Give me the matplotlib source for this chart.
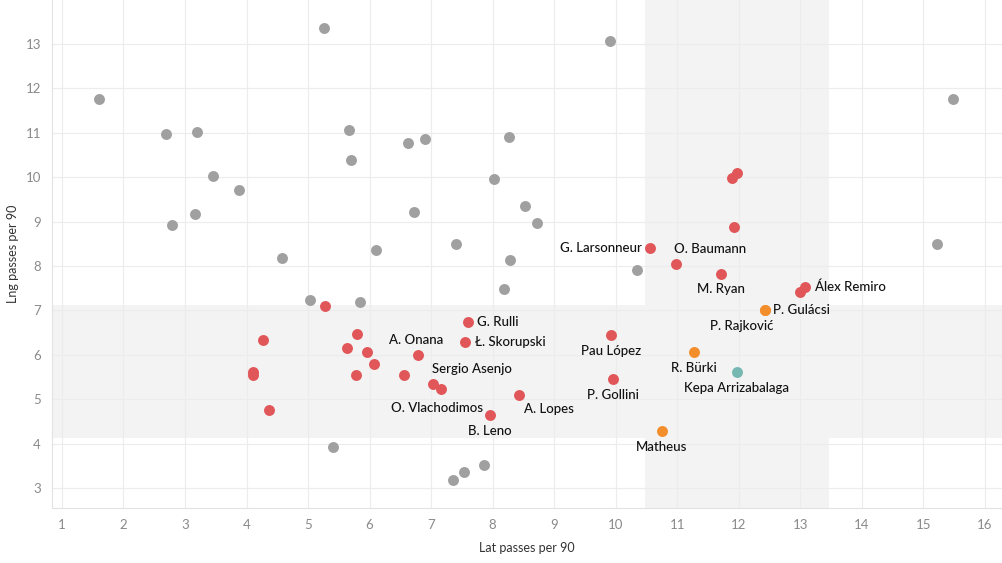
import matplotlib
matplotlib.use('Agg')
import matplotlib.pyplot as plt

plt.rcParams['font.family'] = ['Lato', 'DejaVu Sans']

# other keepers (grey)
grey_x = [1.60, 5.26, 9.91, 15.48, 2.69, 3.19, 3.45, 3.88, 2.79, 3.16, 4.58, 5.66, 5.70,
          6.10, 5.03, 5.84, 6.62, 6.90, 6.72, 7.40, 8.02, 8.26, 8.52, 8.72, 8.28, 8.18,
          10.34, 15.22, 5.40, 7.35, 7.53, 7.86]
grey_y = [11.76, 13.36, 13.07, 11.76, 10.97, 11.02, 10.03, 9.71, 8.92, 9.17, 8.18, 11.06, 10.39,
          8.36, 7.23, 7.19, 10.77, 10.86, 9.22, 8.50, 9.96, 10.90, 9.35, 8.97, 8.14, 7.48,
          7.91, 8.50, 3.92, 3.18, 3.36, 3.52]

# red keepers
red_x = [4.10, 4.10, 4.27, 4.36, 5.27, 5.63, 5.79, 5.96, 6.07, 5.78, 6.56, 6.79, 7.03, 7.16,
         7.55, 7.60, 7.96, 8.43, 9.92, 9.95, 10.56, 10.98, 11.71, 11.92, 11.89, 11.97, 13.00, 13.07]
red_y = [5.61, 5.55, 6.33, 4.76, 7.10, 6.15, 6.47, 6.06, 5.79, 5.55, 5.55, 6.00, 5.34, 5.23,
         6.29, 6.74, 4.64, 5.09, 6.45, 5.46, 8.41, 8.05, 7.82, 8.88, 9.98, 10.09, 7.41, 7.53]

# orange keepers
orange_x = [12.43, 12.43, 11.27, 10.75]
orange_y = [7.01, 7.01, 6.06, 4.28]

# teal
teal_x = [11.97]
teal_y = [5.61]

# labelled players
names = ['G. Larsonneur', 'O. Baumann', 'M. Ryan', 'Álex Remiro', 'P. Gulácsi', 'P. Rajković',
         'Pau López', 'R. Bürki', 'Kepa Arrizabalaga', 'P. Gollini', 'Matheus', 'G. Rulli',
         'Ł. Skorupski', 'A. Onana', 'Sergio Asenjo', 'O. Vlachodimos', 'B. Leno', 'A. Lopes']
name_x = [10.56, 10.98, 11.71, 13.07, 12.43, 12.43, 9.92, 11.27, 11.97, 9.95, 10.75, 7.60,
          7.55, 6.79, 7.16, 7.03, 7.96, 8.43]
name_y = [8.41, 8.05, 7.82, 7.53, 7.01, 7.01, 6.45, 6.06, 5.61, 5.46, 4.28, 6.74,
          6.29, 6.00, 5.23, 5.34, 4.64, 5.09]

# label offsets in pixels (dx, dy, ha)
offsets = [(-8, 0, 'right'), (34, -15, 'center'), (0, 15, 'center'), (10, 0, 'left'),
           (8, 0, 'left'), (-23, 16, 'center'), (0, 16, 'center'), (0, 16, 'center'),
           (0, 16, 'center'), (0, 16, 'center'), (0, 16, 'center'), (9, 0, 'left'),
           (10, 0, 'left'), (-2, -15, 'center'), (31, -20, 'center'), (4, 24, 'center'),
           (0, 16, 'center'), (30, 14, 'center')]

fig = plt.figure(figsize=(10.02, 5.63), dpi=100)
ax = fig.add_axes([0.052, 0.0977, 0.948, 0.9023])

ax.set_xlim(0.84, 16.28)
ax.set_ylim(2.55, 13.99)

# shaded bands
ax.axhspan(4.13, 7.12, color='#f3f3f3', zorder=0, lw=0)
ax.axvspan(10.48, 13.47, color='#f3f3f3', zorder=0, lw=0)

ax.set_xticks(range(1, 17))
ax.set_yticks(range(3, 14))
ax.grid(True, color='#ececec', lw=0.8, zorder=0.5)
ax.set_axisbelow(True)
ax.tick_params(length=0, labelsize=9.5, labelcolor='#8a8a8a', pad=8)
for s in ['top', 'right']:
    ax.spines[s].set_visible(False)
for s in ['left', 'bottom']:
    ax.spines[s].set_color('#e2e2e2')
    ax.spines[s].set_linewidth(0.8)

ms = 62
ax.scatter(grey_x, grey_y, s=ms, color='#a0a0a0', lw=0, zorder=3)
ax.scatter(red_x, red_y, s=ms, color='#e15759', lw=0, zorder=3)
ax.scatter(orange_x, orange_y, s=ms, color='#f28e2b', lw=0, zorder=3)
ax.scatter(teal_x, teal_y, s=ms, color='#76b7b2', lw=0, zorder=3)

for n, x, y, (dx, dy, ha) in zip(names, name_x, name_y, offsets):
    ax.annotate(n, (x, y), xytext=(dx * 0.72, -dy * 0.72), textcoords='offset points',
                ha=ha, va='center', fontsize=9.5, color='#111111', weight='medium', zorder=4)

ax.set_xlabel('Lat passes per 90', fontsize=9, color='#333333', labelpad=8)
ax.set_ylabel('Lng passes per 90', fontsize=9, color='#333333', labelpad=5)

fig.savefig('out.png', dpi=100)
